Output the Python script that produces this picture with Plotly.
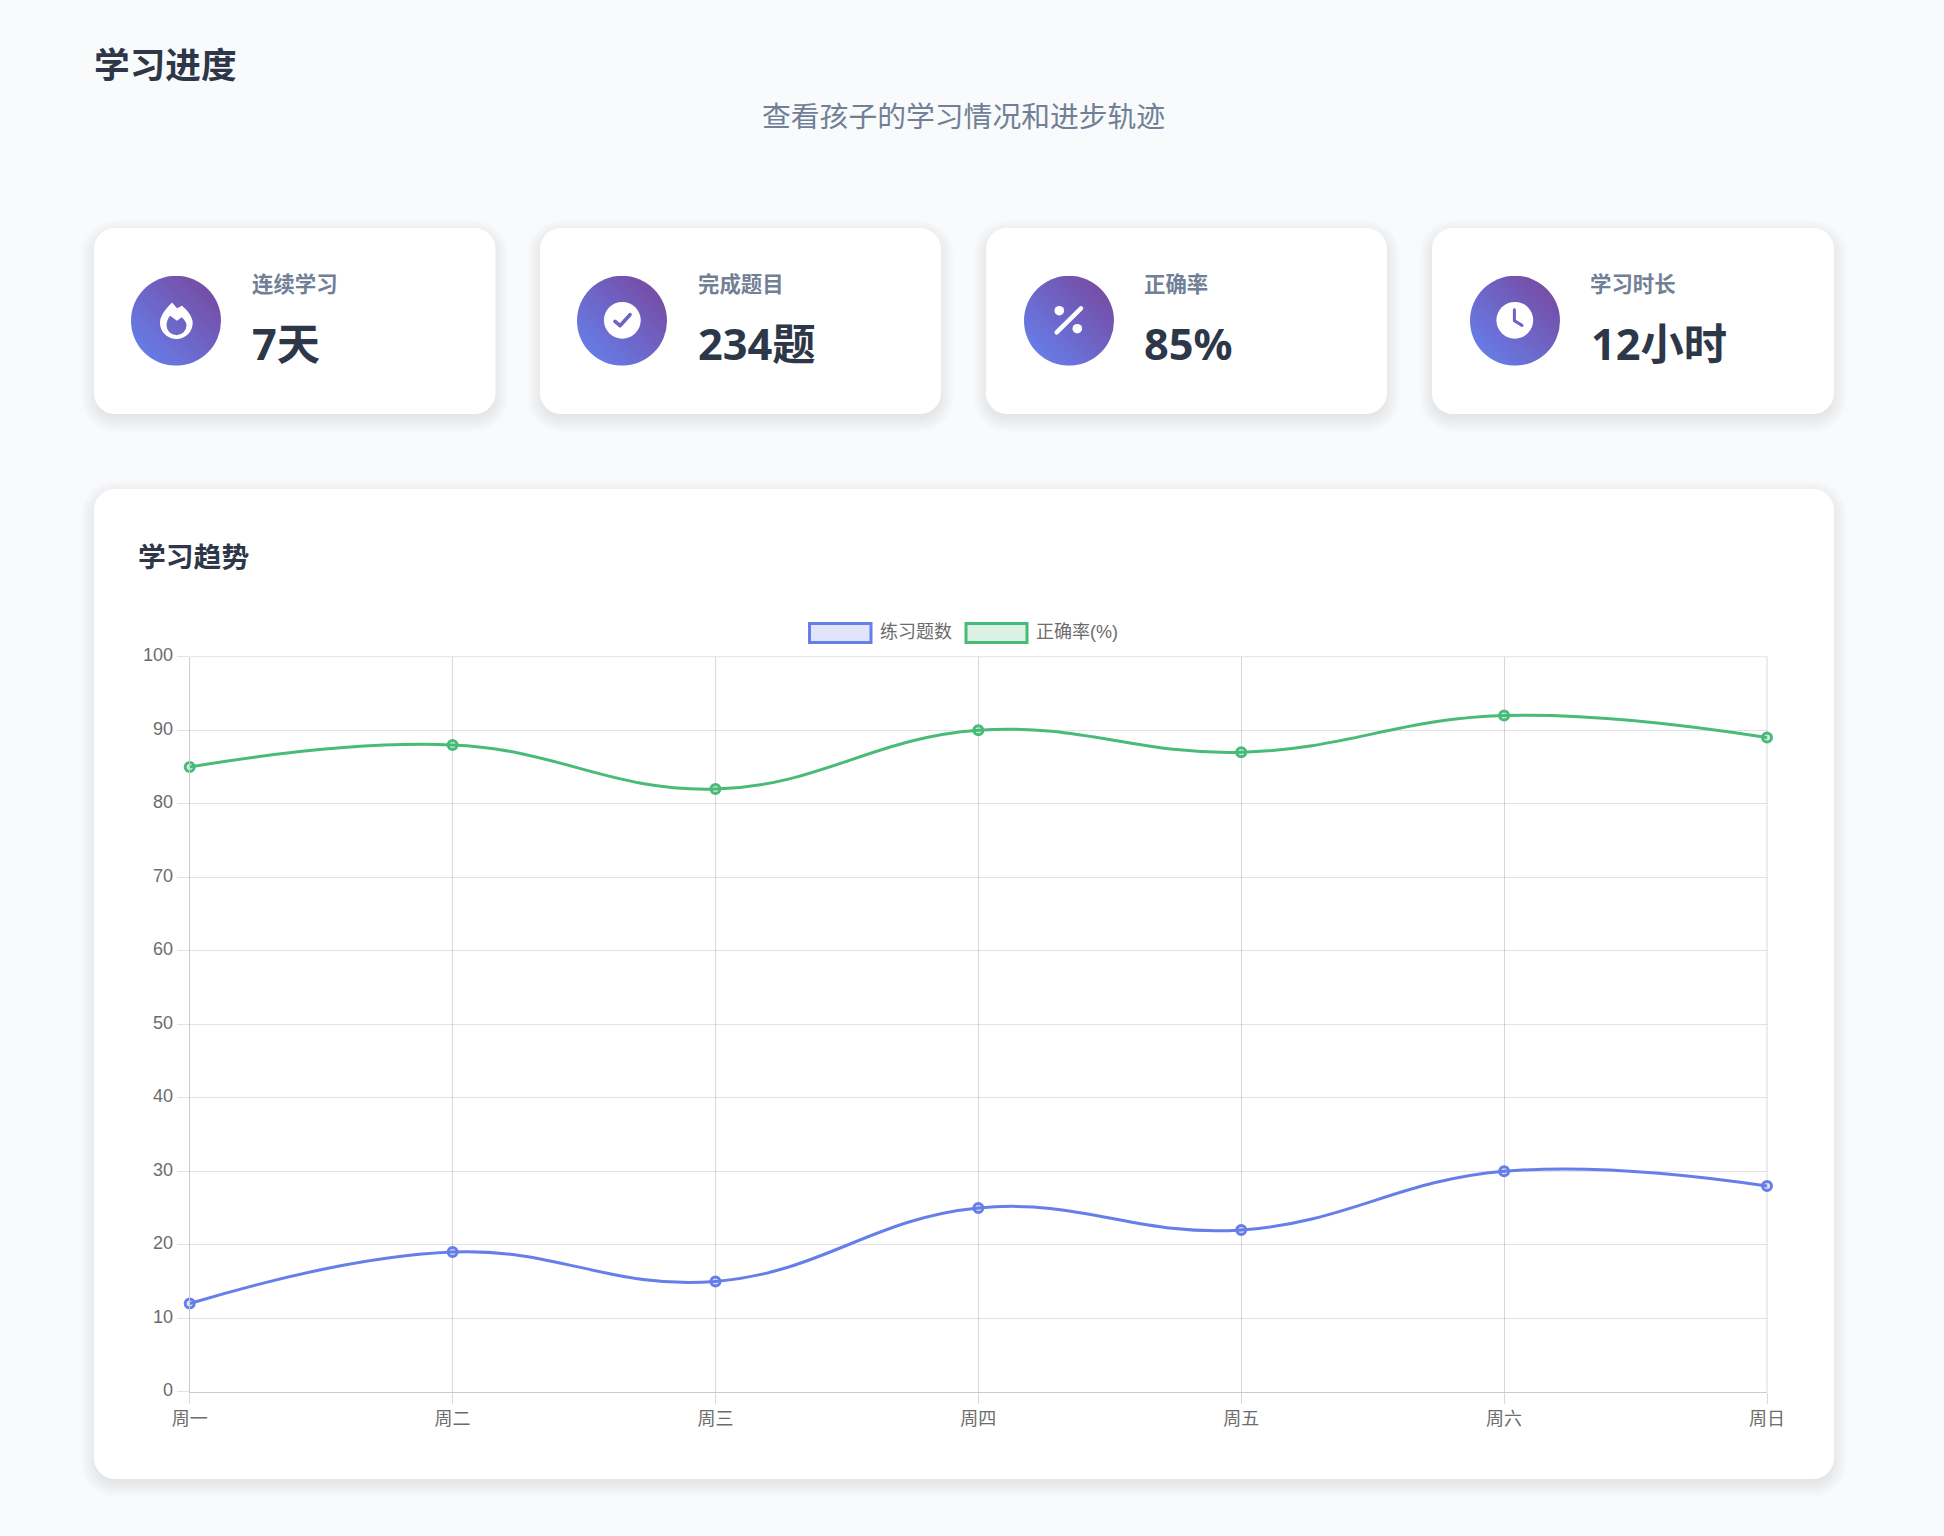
import base64
import plotly.graph_objects as go

# ---- data ----
days = ["周一", "周二", "周三", "周四", "周五", "周六", "周日"]
practice = [12, 19, 15, 25, 22, 30, 28]
accuracy = [85, 88, 82, 90, 87, 92, 89]
series_names = ["练习题数", "正确率(%)"]
y_ticks = [0, 10, 20, 30, 40, 50, 60, 70, 80, 90, 100]
page_title = "学习进度"
page_subtitle = "查看孩子的学习情况和进步轨迹"
stat_labels = ["连续学习", "完成题目", "正确率", "学习时长"]
stat_values = ["7天", "234题", "85%", "12小时"]
chart_title = "学习趋势"

# ---- layout constants ----
W, H = 1944, 1536
BLUE, GREEN = "#667eea", "#48bb78"
DARK, MUTED, TICK = "#2d3748", "#718096", "#6c6c6c"
CJK = "Noto Sans CJK SC"
LATIN_BOLD = f"'Noto Sans', '{CJK}'"
CHART_FONT = f"'Liberation Sans', '{CJK}'"
PLOT_L, PLOT_R, PLOT_T, PLOT_B = 189.7, 1767, 656.7, 1391.7
CARD_X = [(94, 495.5), (540, 941), (986, 1387), (1432, 1834)]
CARD_T, CARD_B = 228, 414
CIRCLE_CX = [176, 622, 1069, 1515]
CIRCLE_CY = 320.7
TEXT_X = [249.5, 695.5, 1141.5, 1588]
VALUE_X = [249.5, 695.5, 1142, 1588.5]


def px(x):
    return x / W


def py(y):
    return 1 - y / H


def rrect(x0, y0, x1, y1, r):
    k = r * 0.4477
    X0, X1, Y0, Y1 = px(x0), px(x1), py(y0), py(y1)
    a, b = px(x0 + r), px(x1 - r)
    c, d = py(y0 + r), py(y1 - r)
    ak, bk = px(x0 + k), px(x1 - k)
    ck, dk = py(y0 + k), py(y1 - k)
    return (f"M{a},{Y0} L{b},{Y0} C{bk},{Y0} {X1},{ck} {X1},{c} L{X1},{d} "
            f"C{X1},{dk} {bk},{Y1} {b},{Y1} L{a},{Y1} C{ak},{Y1} {X0},{dk} {X0},{d} "
            f"L{X0},{c} C{X0},{ck} {ak},{Y0} {a},{Y0} Z")


def card_shapes(x0, y0, x1, y1, r=21):
    out = []
    steps = 10
    for i in range(steps):
        grow = 13 - i * 16 / steps
        out.append(dict(type="path", xref="paper", yref="paper", layer="below",
                        path=rrect(x0 - grow, y0 - grow + 5, x1 + grow, y1 + grow + 5, max(r + grow, 4)),
                        fillcolor="rgba(0,0,0,0.0065)", line=dict(width=0)))
    out.append(dict(type="path", xref="paper", yref="paper", layer="below",
                    path=rrect(x0, y0, x1, y1, r), fillcolor="#ffffff", line=dict(width=0)))
    return out


ICON_MARKS = [
    '<path fill="#fff" fill-rule="evenodd" d="M41 26.7 L46 32.5 L51 30 C56 34 61.7 41 61.7 47 '
    'A16.3 16.3 0 0 1 29 47 C29 39 36 32 41 26.7 Z M39 40 L46 45 L50.8 41.5 C53.5 44 55.5 47 55.5 49.5 '
    'A10 10 0 0 1 35.5 49.5 C35.5 46 37 42.5 39 40 Z"/>',
    '<circle cx="45.3" cy="44.6" r="18.4" fill="#fff"/>'
    '<path d="M38 45.7 L43 50 L53 39" fill="none" stroke="#6e62c6" stroke-width="3.6" '
    'stroke-linecap="round" stroke-linejoin="round"/>',
    '<path d="M32.7 56.7 L57 32.7" stroke="#fff" stroke-width="4.4" stroke-linecap="round"/>'
    '<circle cx="35.3" cy="35" r="4.8" fill="#fff"/><circle cx="53.3" cy="53" r="4.8" fill="#fff"/>',
    '<circle cx="44.8" cy="44.6" r="18.4" fill="#fff"/>'
    '<path d="M44.4 34 L44.4 45 L52 49.7" fill="none" stroke="#6e62c6" stroke-width="3" '
    'stroke-linecap="round" stroke-linejoin="round"/>',
]


def icon_uri(mark):
    svg = ('<svg xmlns="http://www.w3.org/2000/svg" width="90" height="90" viewBox="0 0 90 90">'
           '<defs><linearGradient id="g" x1="0.1" y1="0.9" x2="0.9" y2="0.1">'
           '<stop offset="0" stop-color="#667eea"/><stop offset="1" stop-color="#764ba2"/>'
           '</linearGradient></defs><circle cx="45" cy="45" r="45" fill="url(#g)"/>' + mark + '</svg>')
    return "data:image/svg+xml;base64," + base64.b64encode(svg.encode()).decode()


def text(x, y, s, size, color, family, weight=400, anchor="left"):
    return dict(xref="paper", yref="paper", x=px(x), y=py(y), text=s, showarrow=False,
                xanchor=anchor, yanchor="middle", align=anchor,
                font=dict(size=size, color=color, family=family, weight=weight))


fig = go.Figure()
for name, vals, col, fill in [
    (series_names[0], practice, BLUE, "rgba(102,126,234,0.2)"),
    (series_names[1], accuracy, GREEN, "rgba(72,187,120,0.2)"),
]:
    fig.add_trace(go.Scatter(
        x=days, y=vals, name=name, mode="lines+markers", cliponaxis=False,
        line=dict(color=col, width=3, shape="spline", smoothing=1.2),
        marker=dict(size=9, color=fill, line=dict(color=col, width=3)),
    ))

shapes = []
for x0, x1 in CARD_X:
    shapes += card_shapes(x0, CARD_T, x1, CARD_B)
shapes += card_shapes(94, 489, 1834, 1479)

# top and right plot edges
GRID_H, GRID_V = "rgba(0,0,0,0.115)", "rgba(0,0,0,0.15)"
shapes.append(dict(type="line", xref="paper", yref="paper", layer="below",
                   x0=px(PLOT_L), x1=px(PLOT_R), y0=py(PLOT_T), y1=py(PLOT_T),
                   line=dict(color=GRID_H, width=1)))
shapes.append(dict(type="line", xref="paper", yref="paper", layer="below",
                   x0=px(PLOT_R), x1=px(PLOT_R), y0=py(PLOT_T), y1=py(PLOT_B),
                   line=dict(color=GRID_V, width=1)))

# legend swatches
for (x0, x1), col, fill in [((809.5, 871), BLUE, "rgba(102,126,234,0.2)"),
                            ((966, 1027), GREEN, "rgba(72,187,120,0.2)")]:
    shapes.append(dict(type="rect", xref="paper", yref="paper", layer="above",
                       x0=px(x0), x1=px(x1), y0=py(623.5), y1=py(642.5),
                       fillcolor=fill, line=dict(color=col, width=3)))

annotations = [
    text(91.5, 62.5, page_title, 35.7, DARK, CJK, 700),
    text(963, 114.5, page_subtitle, 28.8, MUTED, CJK, 400, "center"),
    text(135.5, 555, chart_title, 27.8, DARK, CJK, 700),
    text(877.5, 632, series_names[0], 18, TICK, CHART_FONT),
    text(1033.5, 632, series_names[1], 18, TICK, CHART_FONT),
]
images = []
for i in range(4):
    annotations.append(text(TEXT_X[i], 282, stat_labels[i], 21.4, MUTED, CJK, 700))
    annotations.append(text(VALUE_X[i], 343.5, stat_values[i], 43.3, DARK, LATIN_BOLD, 700))
    images.append(dict(source=icon_uri(ICON_MARKS[i]), xref="paper", yref="paper",
                       x=px(CIRCLE_CX[i] - 45), y=py(CIRCLE_CY - 45),
                       sizex=90 / W, sizey=90 / H, xanchor="left", yanchor="top",
                       sizing="stretch", layer="above"))

fig.update_layout(
    width=W, height=H, margin=dict(l=0, r=0, t=0, b=0, autoexpand=False),
    paper_bgcolor="#f8fafc", plot_bgcolor="rgba(0,0,0,0)",
    showlegend=False, shapes=shapes, annotations=annotations, images=images,
    font=dict(family=CHART_FONT, size=18, color=TICK),
    xaxis=dict(domain=[px(PLOT_L), px(PLOT_R)], type="category", categoryorder="array",
               categoryarray=days, range=[0, 6], showgrid=True, gridcolor=GRID_V, gridwidth=1,
               ticks="outside", ticklen=11, tickcolor=GRID_V, tickwidth=1,
               showline=True, linecolor="#cbcbcb", linewidth=1, automargin=False,
               tickfont=dict(size=18, color=TICK, family=CHART_FONT)),
    yaxis=dict(domain=[py(PLOT_B), py(PLOT_T)], range=[0, 100], tickvals=y_ticks,
               showgrid=True, gridcolor=GRID_H, gridwidth=1, zeroline=False,
               ticks="outside", ticklen=12, tickcolor=GRID_H, tickwidth=1,
               showline=True, linecolor="#cbcbcb", linewidth=1, automargin=False,
               ticklabelshift=-2,
               tickfont=dict(size=18, color=TICK, family=CHART_FONT)),
)

fig.write_html("out.html", config=dict(displayModeBar=False),
               post_script="document.body.style.margin='0';document.body.style.background='#f8fafc';")
